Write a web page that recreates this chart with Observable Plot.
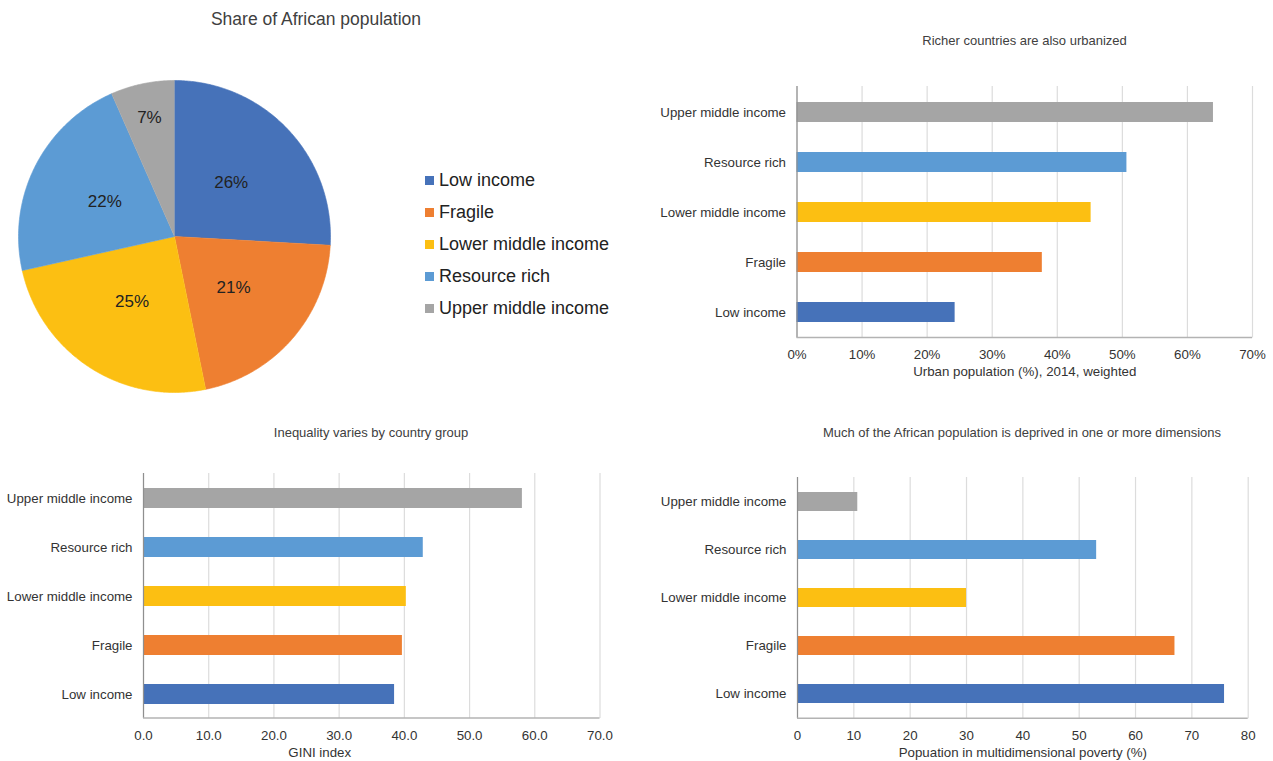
<!DOCTYPE html>
<html><head><meta charset="utf-8">
<script src="https://cdn.jsdelivr.net/npm/d3@7"></script>
<script src="https://cdn.jsdelivr.net/npm/@observablehq/plot@0.6"></script>
<style>
body{margin:0;background:#fff;font-family:"Liberation Sans",Arial,Helvetica,sans-serif;}
#root{position:relative;width:1273px;height:761px;overflow:hidden;background:#fff;}
.panel{position:absolute;}
.panel svg{display:block;overflow:visible;}
.title{position:absolute;transform:translate(-50%,-50%);white-space:nowrap;line-height:1;color:#404040;}
.legend-row{position:absolute;display:flex;align-items:center;height:24px;transform:translateY(-50%);font-size:18px;color:#222;white-space:nowrap;}
.sw{width:9px;height:9px;margin-right:5px;}
</style></head><body><div id="root"></div>
<script>
// ---- data ----
const groups = ["Low income", "Fragile", "Lower middle income", "Resource rich", "Upper middle income"];
const groupColors = ["#4672b9", "#ee7f31", "#fcbf12", "#5c9bd4", "#a5a5a5"];
const populationShare = [25.9, 20.9, 24.7, 21.9, 6.6];
const urbanShare = [24.3, 37.7, 45.2, 50.7, 64.0];
const urbanTicks = [0, 10, 20, 30, 40, 50, 60, 70];
const giniIndex = [38.5, 39.7, 40.3, 42.9, 58.1];
const giniTicks = [0, 10, 20, 30, 40, 50, 60, 70];
const povertyShare = [75.8, 67.0, 30.0, 53.1, 10.7];
const povertyTicks = [0, 10, 20, 30, 40, 50, 60, 70, 80];

const FONT = '"Liberation Sans", Arial, Helvetica, sans-serif';
const root = document.getElementById("root");

function place(node, left, top) {
  const d = document.createElement("div");
  d.className = "panel";
  d.style.left = left + "px";
  d.style.top = top + "px";
  d.appendChild(node);
  root.appendChild(d);
}
function addTitle(text, cx, cy, size) {
  const t = document.createElement("div");
  t.className = "title";
  t.textContent = text;
  t.style.left = cx + "px";
  t.style.top = cy + "px";
  t.style.fontSize = size + "px";
  root.appendChild(t);
}

// ---- pie ----
const pieGen = d3.pie().sort(null).value(d => d.value);
const arcs = pieGen(groups.map((g, i) => ({group: g, value: populationShare[i]})));
const slicePts = [];
const labelPts = [];
arcs.forEach(a => {
  const g = a.data.group;
  slicePts.push({group: g, x: 0, y: 0});
  const n = Math.max(2, Math.ceil((a.endAngle - a.startAngle) / 0.01));
  for (let k = 0; k <= n; k++) {
    const t = a.startAngle + (a.endAngle - a.startAngle) * k / n;
    slicePts.push({group: g, x: Math.sin(t), y: Math.cos(t)});
  }
  const mid = (a.startAngle + a.endAngle) / 2;
  const r = a.data.value < 10 ? 0.78 : 0.5;
  labelPts.push({group: g, x: r * Math.sin(mid), y: r * Math.cos(mid), text: Math.round(a.data.value) + "%"});
});

const pie = Plot.plot({
  width: 312, height: 312,
  marginTop: 0, marginRight: 0, marginBottom: 0, marginLeft: 0,
  style: {fontFamily: FONT, background: "transparent", overflow: "visible"},
  x: {domain: [-1, 1], axis: null},
  y: {domain: [-1, 1], axis: null},
  color: {domain: groups, range: groupColors},
  marks: [
    Plot.line(slicePts, {x: "x", y: "y", z: "group", fill: "group", stroke: "group", strokeWidth: 0.6}),
    Plot.text(labelPts, {x: "x", y: "y", text: "text", fontSize: 17, fill: "#222"})
  ]
});
place(pie, 18, 80);
addTitle("Share of African population", 316, 19.5, 17.5);

// legend
groups.forEach((g, i) => {
  const row = document.createElement("div");
  row.className = "legend-row";
  row.style.left = "425px";
  row.style.top = (180.5 + i * 32) + "px";
  const sw = document.createElement("div");
  sw.className = "sw";
  sw.style.background = groupColors[i];
  const tx = document.createElement("span");
  tx.textContent = g;
  row.appendChild(sw);
  row.appendChild(tx);
  root.appendChild(row);
});

// ---- bar charts ----
function barChart({values, ticks, fmt, label, labelDx = 0, width, height, mL, mR, mT, mB}) {
  const data = groups.map((g, i) => ({group: g, value: values[i]}));
  const x0 = ticks[0], x1 = ticks[ticks.length - 1];
  return Plot.plot({
    width, height,
    marginLeft: mL, marginRight: mR, marginTop: mT, marginBottom: mB,
    style: {fontFamily: FONT, fontSize: "13.3px", color: "#333", background: "transparent", overflow: "visible"},
    x: {domain: [x0, x1], ticks, tickFormat: fmt, tickSize: 0, tickPadding: 12, label: null},
    y: {domain: groups.slice().reverse(), paddingInner: 0.6, paddingOuter: 0.3, tickSize: 0, tickPadding: 11, label: null},
    color: {domain: groups, range: groupColors},
    marks: [
      Plot.ruleX(ticks, {stroke: "#dcdcdc", strokeWidth: 1.2}),
      Plot.barX(data, {x: "value", y: "group", fill: "group"}),
      Plot.ruleX([x0], {stroke: "#8f8f8f", strokeWidth: 1.2}),
      (index, scales, values, dims) => {
        const ln = document.createElementNS("http://www.w3.org/2000/svg", "line");
        const yb = dims.height - dims.marginBottom;
        ln.setAttribute("x1", scales.x(x0));
        ln.setAttribute("x2", scales.x(x1));
        ln.setAttribute("y1", yb);
        ln.setAttribute("y2", yb);
        ln.setAttribute("stroke", "#b3b3b3");
        ln.setAttribute("stroke-width", 1.5);
        return ln;
      },
      Plot.text([label], {frameAnchor: "bottom", dy: 38, dx: labelDx, text: d => d, fontSize: 13.3, fill: "#333"})
    ]
  });
}

const urban = barChart({
  values: urbanShare, ticks: urbanTicks, fmt: d => d + "%",
  label: "Urban population (%), 2014, weighted",
  width: 633, height: 330, mL: 156.5, mR: 21, mT: 26, mB: 52.5
});
place(urban, 640, 60);
addTitle("Richer countries are also urbanized", 1024.5, 40, 13);

const gini = barChart({
  values: giniIndex, ticks: giniTicks, fmt: d => d.toFixed(1),
  label: "GINI index", labelDx: -52,
  width: 640, height: 311, mL: 143, mR: 40.5, mT: 23, mB: 43
});
place(gini, 0, 450);
addTitle("Inequality varies by country group", 371, 432, 13);

const poverty = barChart({
  values: povertyShare, ticks: povertyTicks, fmt: d => String(d),
  label: "Popuation in multidimensional poverty (%)",
  width: 633, height: 311, mL: 157, mR: 25.3, mT: 27, mB: 42.7
});
place(poverty, 640, 450);
addTitle("Much of the African population is deprived in one or more dimensions", 1022, 432, 13);
</script></body></html>
